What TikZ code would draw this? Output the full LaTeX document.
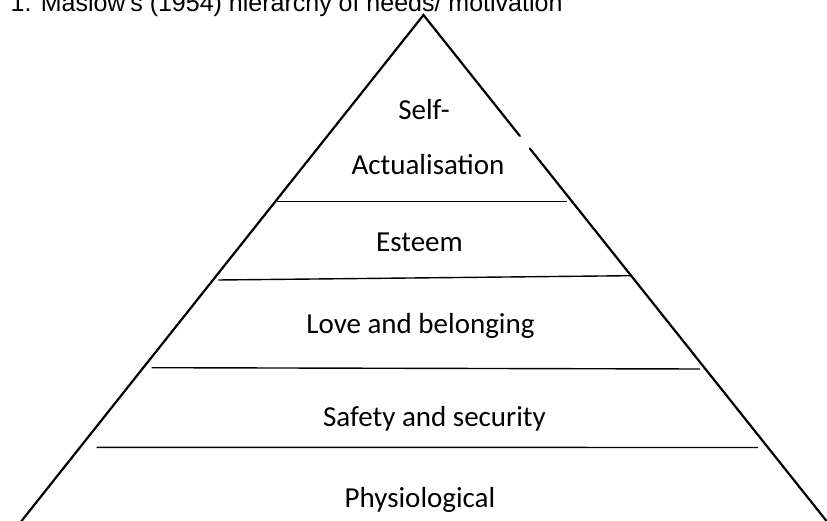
\documentclass[tikz,border=0pt]{standalone}
\usepackage{fontspec}
\setmainfont{Carlito}
\newfontfamily\headfont{Liberation Sans}
\usetikzlibrary{calc}

\begin{document}
\begin{tikzpicture}[
    x=1pt, y=-1pt,
    side/.style={line width=2.2pt, line cap=round},
    rule/.style={line width=1.4pt},
    level/.style={font=\fontsize{29}{34}\selectfont, inner sep=0pt, anchor=base},
]
\useasboundingbox (0,0) rectangle (827,521);
\clip (0,0) rectangle (827,521);

% Heading (runs off the top edge)
\node[font=\headfont\fontsize{25}{30}\selectfont, inner sep=0pt, anchor=base west]
    (heading) at (10.5,11.8) {1. Maslow's (1954) hierarchy of needs/ motivation};

% Pyramid outline
\coordinate (apex) at (423.5,15);
\coordinate (baseL) at (21.5,521);
\coordinate (baseR) at (826.5,521);
\draw[side] (baseL) -- (apex) -- ($(apex)!0.239!(baseR)$);
\draw[side] ($(apex)!0.264!(baseR)$) -- (baseR);

% Dividers between the levels
\draw[rule] (277,201.7) -- (567,201.7);
\draw[rule] (218.3,280) -- (630.7,275.7);
\draw[rule] (151.7,367.7) -- (700,369);
\draw[rule] (96.7,447.3) -- (758,447.5);

% Level labels, top to bottom
\node[level] (self) at (424,120) {Self-};
\node[level] (actual) at (428,175) {Actualisation};
\node[level] (esteem) at (419.5,251.7) {Esteem};
\node[level] (love) at (420.5,334) {Love and belonging};
\node[level] (safety) at (434.5,426) {Safety and security};
\node[level] (physio) at (420,507.3) {Physiological};

\end{tikzpicture}
\end{document}
